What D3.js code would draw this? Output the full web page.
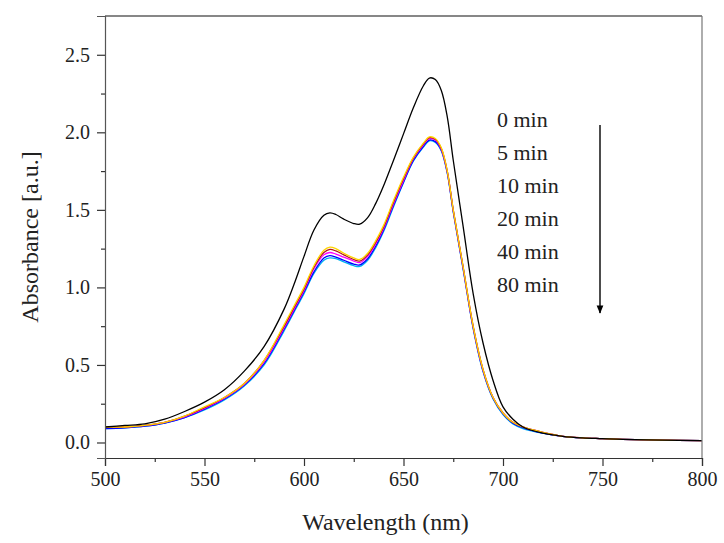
<!DOCTYPE html>
<html>
<head>
<meta charset="utf-8">
<script src="https://cdn.jsdelivr.net/npm/d3@7"></script>
<style>
  html, body { margin: 0; padding: 0; background: #fff; }
  svg { display: block; }
  svg text { font-family: "Liberation Serif", Tinos, "Times New Roman", Times, "DejaVu Serif", serif; fill: #222; }
</style>
</head>
<body>
<svg id="chart" width="724" height="543"></svg>
<script>
// ---- data ----
const wavelengths = [500,510,520,530,540,550,560,570,580,590,595,600,605,610,613,616,620,625,628,632,636,640,645,650,655,660,663,666,669,672,675,680,685,690,695,700,705,710,720,730,740,750,760,780,800];

const min0  = [0.10,0.11,0.12,0.15,0.20,0.26,0.34,0.46,0.62,0.86,1.02,1.20,1.37,1.465,1.48,1.47,1.44,1.412,1.408,1.45,1.54,1.655,1.82,1.99,2.16,2.30,2.35,2.34,2.27,2.10,1.82,1.39,0.96,0.64,0.40,0.23,0.15,0.10,0.06,0.04,0.03,0.025,0.02,0.015,0.012];
const min5  = [0.10,0.10,0.11,0.13,0.17,0.23,0.29,0.38,0.53,0.76,0.88,1.00,1.14,1.24,1.26,1.25,1.22,1.19,1.18,1.22,1.30,1.40,1.56,1.71,1.84,1.93,1.97,1.96,1.90,1.75,1.50,1.13,0.75,0.47,0.29,0.19,0.13,0.10,0.065,0.04,0.03,0.025,0.02,0.015,0.012];
const min10 = [0.10,0.10,0.11,0.13,0.17,0.225,0.29,0.38,0.53,0.75,0.87,0.99,1.13,1.225,1.245,1.235,1.21,1.18,1.17,1.21,1.29,1.39,1.55,1.70,1.835,1.925,1.965,1.955,1.895,1.75,1.50,1.13,0.75,0.47,0.29,0.19,0.13,0.10,0.065,0.04,0.03,0.025,0.02,0.015,0.012];
const min20 = [0.10,0.10,0.11,0.13,0.165,0.22,0.285,0.375,0.52,0.74,0.86,0.98,1.12,1.21,1.225,1.215,1.195,1.17,1.16,1.20,1.28,1.38,1.54,1.69,1.83,1.92,1.96,1.95,1.89,1.745,1.495,1.125,0.745,0.465,0.29,0.19,0.13,0.10,0.065,0.04,0.03,0.025,0.02,0.015,0.012];
const min40 = [0.09,0.095,0.105,0.125,0.16,0.215,0.28,0.37,0.51,0.73,0.85,0.97,1.10,1.19,1.205,1.195,1.175,1.15,1.145,1.185,1.265,1.37,1.53,1.68,1.82,1.91,1.95,1.94,1.885,1.74,1.49,1.12,0.74,0.46,0.285,0.185,0.125,0.095,0.06,0.04,0.03,0.025,0.02,0.015,0.012];
const min80 = [0.09,0.095,0.105,0.125,0.16,0.21,0.275,0.365,0.50,0.72,0.84,0.96,1.09,1.175,1.19,1.185,1.165,1.14,1.135,1.175,1.255,1.36,1.52,1.675,1.815,1.905,1.945,1.935,1.88,1.735,1.485,1.115,0.735,0.455,0.28,0.18,0.12,0.09,0.06,0.04,0.03,0.025,0.02,0.015,0.012];

const seriesNames  = ["0 min","5 min","10 min","20 min","40 min","80 min"];
const seriesValues = [min0, min5, min10, min20, min40, min80];
const seriesColors = ["#000000","#FFD400","#B01818","#FF00FF","#0000FF","#00B4F0"];

const xTicks = [500,550,600,650,700,750,800];
const xMinor = [525,575,625,675,725,775];
const yTicks = [0.0,0.5,1.0,1.5,2.0,2.5];
const yMinor = [0.25,0.75,1.25,1.75,2.25];

// ---- layout ----
const FONT = '"Liberation Serif", Tinos, "Times New Roman", Times, "DejaVu Serif", serif';
const svg = d3.select("#chart");
const L = 105, R = 702, T = 16, B = 458;

const x = d3.scaleLinear().domain([500, 800]).range([L, R]);
const y = d3.scaleLinear().domain([-0.1, 2.75]).range([B, T]);

const line = d3.line().x(d => x(d[0])).y(d => y(d[1])).curve(d3.curveCatmullRom.alpha(0.5));
const g = svg.append("g");
for (let i = seriesValues.length - 1; i >= 0; i--) {
  const pts = wavelengths.map((w, j) => [w, seriesValues[i][j]]);
  g.append("path").attr("d", line(pts))
    .attr("fill", "none")
    .attr("stroke", seriesColors[i])
    .attr("stroke-width", 1.3);
}

// frame
svg.append("line").attr("x1", L).attr("x2", R).attr("y1", T).attr("y2", T).attr("stroke", "#111").attr("stroke-width", 1.2);
svg.append("line").attr("x1", R).attr("x2", R).attr("y1", T).attr("y2", B).attr("stroke", "#777").attr("stroke-width", 1.2);

// axes
const xAxis = d3.axisBottom(x).tickValues(xTicks).tickFormat(d3.format("d")).tickSizeOuter(0).tickSize(8).tickPadding(6);
const gx = svg.append("g").attr("transform", `translate(0,${B})`).call(xAxis).attr("font-family", FONT);
gx.select(".domain").attr("stroke", "#333").attr("stroke-width", 1.2);
gx.selectAll(".tick line").attr("stroke", "#333").attr("stroke-width", 1.2);
gx.selectAll("text").attr("font-size", 20).attr("fill", "#222");
const gxm = svg.append("g").attr("transform", `translate(0,${B})`)
  .call(d3.axisBottom(x).tickValues(xMinor).tickFormat("").tickSize(4).tickSizeOuter(0));
gxm.select(".domain").remove();
gxm.selectAll(".tick line").attr("stroke", "#333").attr("stroke-width", 1.2);

const yAxis = d3.axisLeft(y).tickValues(yTicks).tickFormat(d3.format(".1f")).tickSizeOuter(0).tickSize(8).tickPadding(7);
const gy = svg.append("g").attr("transform", `translate(${L},0)`).call(yAxis).attr("font-family", FONT);
gy.select(".domain").attr("stroke", "#555").attr("stroke-width", 1.2);
gy.selectAll(".tick line").attr("stroke", "#333").attr("stroke-width", 1.2);
gy.selectAll("text").attr("font-size", 20).attr("fill", "#222");
const gym = svg.append("g").attr("transform", `translate(${L},0)`)
  .call(d3.axisLeft(y).tickValues(yMinor).tickFormat("").tickSize(4).tickSizeOuter(0));
gym.select(".domain").remove();
gym.selectAll(".tick line").attr("stroke", "#333").attr("stroke-width", 1.2);

// axis titles
svg.append("text").attr("x", (L + R) / 2 - 18).attr("y", 530).attr("text-anchor", "middle")
  .attr("font-family", FONT).attr("font-size", 24).text("Wavelength (nm)");
svg.append("text").attr("transform", `translate(38,237) rotate(-90)`).attr("text-anchor", "middle")
  .attr("font-family", FONT).attr("font-size", 24).text("Absorbance [a.u.]");

// legend labels
const legend = svg.append("g").attr("font-family", FONT);
seriesNames.forEach((n, i) => {
  legend.append("text").attr("x", 497).attr("y", 127 + i * 33).attr("font-size", 22).text(n);
});
// arrow
svg.append("defs").append("marker").attr("id", "ah").attr("viewBox", "0 0 10 10")
  .attr("refX", 9).attr("refY", 5).attr("markerWidth", 6).attr("markerHeight", 8).attr("orient", "auto")
  .append("path").attr("d", "M0,1 L10,5 L0,9 Z").attr("fill", "#000");
svg.append("line").attr("x1", 600).attr("x2", 600).attr("y1", 125).attr("y2", 313)
  .attr("stroke", "#000").attr("stroke-width", 1.4).attr("marker-end", "url(#ah)");
</script>
</body>
</html>
